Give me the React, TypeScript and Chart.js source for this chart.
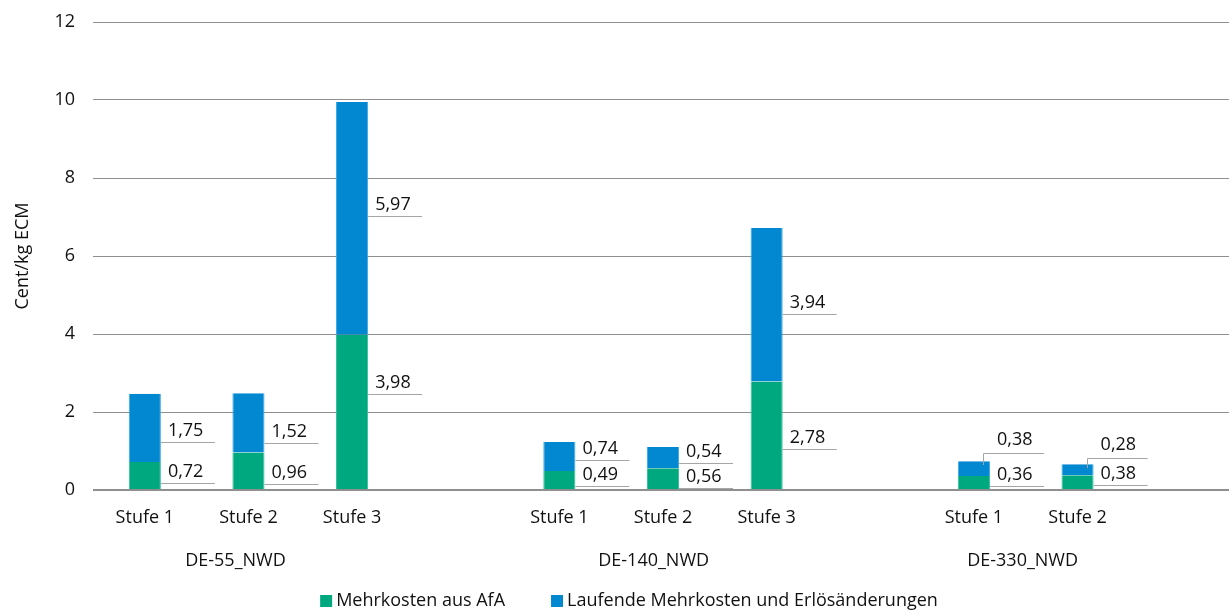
import React, { useEffect, useRef } from 'react';
import { Chart, registerables } from 'chart.js';

Chart.register(...registerables);

// ---------- data ----------
const categories = ['Stufe 1', 'Stufe 2', 'Stufe 3', '', 'Stufe 1', 'Stufe 2', 'Stufe 3', '', 'Stufe 1', 'Stufe 2', ''];
const groupNames = ['DE-55_NWD', 'DE-140_NWD', 'DE-330_NWD'];
const seriesNames = ['Mehrkosten aus AfA', 'Laufende Mehrkosten und Erlösänderungen'];
const afaValues = [0.72, 0.96, 3.98, null, 0.49, 0.56, 2.78, null, 0.36, 0.38, null];
const laufendeValues = [1.75, 1.52, 5.97, null, 0.74, 0.54, 3.94, null, 0.38, 0.28, null];
const yMin = 0;
const yMax = 12;
const yStep = 2;
const yTitle = 'Cent/kg ECM';

// ---------- label layout (value-axis heights of the callout leader lines) ----------
const groupLabelAt = [0.875, 4.91, 8.47];
const calloutAfaAt = [0.18, 0.16, 2.46, null, 0.1, 0.05, 1.06, null, 0.1, 0.13, null];
const calloutLaufendeAt = [1.23, 1.21, 7.02, null, 0.78, 0.7, 4.51, null, 0.94, 0.83, null];
const calloutLaufendeElbowFrom = [null, null, null, null, null, null, null, null, 0.64, 0.56, null];

const colors = ['#00A87F', '#0288D1'];
const edgeColors = ['#33BE98', '#3AA8E6'];
const FONT = '"Open Sans", Lato, sans-serif';
const FS = 18;
const TEXT = '#111111';

const fmt = (v: number) => v.toFixed(2).replace('.', ',');

const annotatePlugin = {
  id: 'annotate',
  afterDatasetsDraw(chart: any) {
    const ctx = chart.ctx as CanvasRenderingContext2D;
    const ys = chart.scales.y;
    const xs = chart.scales.x;
    ctx.save();
    ctx.font = `${FS}px ${FONT}`;
    const sets = [
      { values: afaValues, at: calloutAfaAt, elbow: null as any },
      { values: laufendeValues, at: calloutLaufendeAt, elbow: calloutLaufendeElbowFrom },
    ];
    sets.forEach((s, d) => {
      const meta = chart.getDatasetMeta(d);
      s.values.forEach((v, i) => {
        if (v == null || s.at[i] == null) return;
        const el: any = meta.data[i];
        const right = el.x + el.width / 2;
        const ly = Math.round(ys.getPixelForValue(s.at[i] as number)) + 0.5;
        ctx.strokeStyle = '#a6a6a6';
        ctx.lineWidth = 1;
        ctx.beginPath();
        const hasElbow = s.elbow && s.elbow[i] != null;
        if (hasElbow) {
          const ex = Math.round(right - 7) + 0.5;
          ctx.moveTo(ex, ys.getPixelForValue(s.elbow[i]));
          ctx.lineTo(ex, ly);
        } else {
          ctx.moveTo(right, ly);
        }
        ctx.lineTo(right + 54, ly);
        ctx.stroke();
        ctx.fillStyle = TEXT;
        ctx.textAlign = 'left';
        ctx.textBaseline = 'alphabetic';
        ctx.fillText(fmt(v), right + 7, ly - (hasElbow ? 9 : 7));
      });
    });

    // group labels
    ctx.fillStyle = TEXT;
    ctx.textAlign = 'center';
    ctx.textBaseline = 'middle';
    groupNames.forEach((g, k) => {
      ctx.fillText(g, xs.getPixelForValue(groupLabelAt[k]), 561);
    });

    // legend
    const box = 12;
    const gapBox = 4;
    const gapItem = 46;
    const widths = seriesNames.map((n) => ctx.measureText(n).width);
    const total = widths.reduce((a, w) => a + box + gapBox + w, 0) + gapItem;
    let x = 629 - total / 2;
    const ly = 601;
    seriesNames.forEach((n, k) => {
      ctx.fillStyle = colors[k];
      ctx.fillRect(x, ly - box / 2, box, box);
      x += box + gapBox;
      ctx.fillStyle = TEXT;
      ctx.textAlign = 'left';
      ctx.textBaseline = 'middle';
      ctx.fillText(n, x, ly);
      x += widths[k] + gapItem;
    });
    ctx.restore();
  },
};

export default function App() {
  const ref = useRef<HTMLCanvasElement | null>(null);
  useEffect(() => {
    document.body.style.margin = '0';
    const canvas = ref.current!;
    const edge = { top: 0, bottom: 0, left: 1, right: 1 };
    const chart = new Chart(canvas, {
      type: 'bar',
      data: {
        labels: categories,
        datasets: [
          { label: seriesNames[0], data: afaValues as any, backgroundColor: colors[0], borderColor: edgeColors[0], borderWidth: edge, borderSkipped: false, stack: 's' },
          { label: seriesNames[1], data: laufendeValues as any, backgroundColor: colors[1], borderColor: edgeColors[1], borderWidth: edge, borderSkipped: false, stack: 's' },
        ],
      },
      options: {
        responsive: false,
        animation: false,
        devicePixelRatio: 1,
        layout: { padding: { top: 22, left: 0, right: 0, bottom: 0 } },
        datasets: { bar: { categoryPercentage: 1, barPercentage: 0.31 } },
        plugins: { legend: { display: false }, tooltip: { enabled: false } },
        scales: {
          x: {
            stacked: true,
            grid: { display: false },
            border: { display: false },
            ticks: { color: TEXT, font: { family: FONT, size: FS }, padding: 9, maxRotation: 0, autoSkip: false },
            afterFit: (s: any) => { s.height = 122; s.paddingLeft = 0; s.paddingRight = 0; },
          },
          y: {
            stacked: true,
            min: yMin,
            max: yMax,
            border: { display: false },
            grid: {
              color: '#8f8f8f',
              lineWidth: (c: any) => (c.tick && c.tick.value === 0 ? 2 : 1),
              drawTicks: false,
            },
            ticks: { stepSize: yStep, color: TEXT, font: { family: FONT, size: FS }, padding: 18 },
            title: { display: true, text: yTitle, color: TEXT, font: { family: FONT, size: FS }, padding: { top: 12, bottom: 0 } },
            afterFit: (s: any) => { s.width = 93; s.paddingTop = 0; s.paddingBottom = 0; },
          },
        },
      },
      plugins: [annotatePlugin],
    });
    return () => chart.destroy();
  }, []);
  return (
    <div style={{ position: 'fixed', left: 0, top: 0, width: 1229, height: 612, overflow: 'hidden', background: '#fff' }}>
      <canvas ref={ref} width={1233} height={612} style={{ display: 'block', width: 1233, height: 612 }} />
    </div>
  );
}
